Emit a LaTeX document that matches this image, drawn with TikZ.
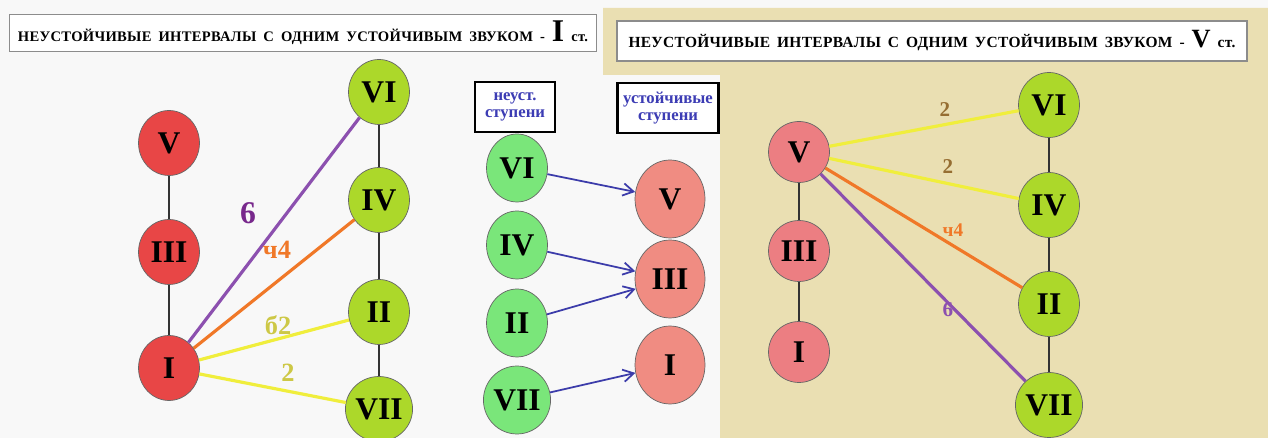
\documentclass[tikz,border=0pt]{standalone}
\usepackage{fontspec}
\setmainfont{Liberation Serif}
\newfontfamily\titlefamily[LetterSpace=2]{Liberation Serif}
\newcommand\titlefont{\titlefamily\fontsize{8.3}{8.3}\selectfont\bfseries\spaceskip=4pt\relax}
\usetikzlibrary{arrows.meta,shapes.geometric}
\definecolor{paper}{RGB}{248,248,248}
\definecolor{beige}{RGB}{234,223,178}
\definecolor{redstep}{RGB}{232,70,70}
\definecolor{limestep}{RGB}{172,216,42}
\definecolor{greenstep}{RGB}{122,230,122}
\definecolor{pinkstep}{RGB}{240,140,130}
\definecolor{rosestep}{RGB}{236,126,130}
\definecolor{violetline}{RGB}{140,80,175}
\definecolor{orangeline}{RGB}{240,120,40}
\definecolor{yellowline}{RGB}{240,238,60}
\definecolor{bluearrow}{RGB}{60,60,170}
\definecolor{bluetext}{RGB}{60,60,180}
\definecolor{violettext}{RGB}{120,40,140}
\definecolor{olivetext}{RGB}{205,200,70}
\definecolor{browntext}{RGB}{150,110,50}
\begin{document}
\begin{tikzpicture}[x=0.02cm,y=-0.02cm]
		\tikzset{degree/.style = {shape=ellipse,draw=black!60,inner sep=0pt,minimum width=1.22cm,minimum height=1.3cm,font=\fontsize{18}{18}\selectfont\bfseries}}
		\tikzset{tonic/.style = {degree,fill=redstep}}
		\tikzset{unstable/.style = {degree,fill=limestep}}
		\tikzset{leading/.style = {degree,fill=greenstep}}
		\tikzset{stable/.style = {degree,fill=pinkstep,minimum width=1.4cm,minimum height=1.56cm}}
		\tikzset{dominant/.style = {degree,fill=rosestep,minimum height=1.22cm}}
		\tikzset{title/.style = {draw=black!45,line width=1pt,fill=white,inner sep=0pt,font=\titlefont}}
		\tikzset{caption/.style = {draw=black,line width=1.5pt,fill=white,inner sep=1pt,align=center,text=bluetext,font=\fontsize{9.5}{10}\selectfont\bfseries}}
		\tikzset{chain/.style = {-,line width=1pt,black!80}}
		\tikzset{interval/.style = {-,line width=1.8pt}}
		\tikzset{move/.style = {-{Straight Barb[length=6pt,width=7pt]},line width=1pt,bluearrow}}
		\useasboundingbox (0,0) rectangle (1268,438);
		%backgrounds
		\fill[paper] (0,0) rectangle (1268,438);
		\fill[beige] (603,8) -- (1268,8) -- (1268,438) -- (720,438) -- (720,75) -- (603,75) -- cycle;
		%titles
		\node[title,minimum width=11.74cm,minimum height=0.74cm] (t1) at (303,33) {НЕУСТОЙЧИВЫЕ ИНТЕРВАЛЫ С ОДНИМ УСТОЙЧИВЫМ ЗВУКОМ - {\fontsize{18}{18}\selectfont I} ст.};
		\node[title,minimum width=12.6cm,minimum height=0.8cm,font=\titlefont\fontsize{8.8}{8.8}\selectfont] (t2) at (932,41) {НЕУСТОЙЧИВЫЕ ИНТЕРВАЛЫ С ОДНИМ УСТОЙЧИВЫМ ЗВУКОМ - {\fontsize{15}{15}\selectfont V} ст.};
		%first panel
		\node[tonic] (lV) at (169,143) {V};
		\node[tonic] (lIII) at (169,252) {III};
		\node[tonic] (lI) at (169,368) {I};
		\node[unstable] (lVI) at (379,92) {VI};
		\node[unstable] (lIV) at (379,200) {IV};
		\node[unstable] (lII) at (379,312) {II};
		\node[unstable] (lVII) at (379,409) {VII};
		\draw[chain] (lV) to (lIII);
		\draw[chain] (lIII) to (lI);
		\draw[chain] (lVI) to (lIV);
		\draw[chain] (lIV) to (lII);
		\draw[chain] (lII) to (lVII);
		\draw[interval,violetline] (lI) to (lVI);
		\draw[interval,orangeline] (lI) to (lIV);
		\draw[interval,yellowline] (lI) to (lII);
		\draw[interval,yellowline] (lI) to (lVII);
		\node[text=violettext,font=\fontsize{18}{18}\selectfont\bfseries] (l6) at (248,213) {6};
		\node[text=orangeline,font=\fontsize{15}{15}\selectfont\bfseries] (l4) at (277,250) {ч4};
		\node[text=olivetext,font=\fontsize{15}{15}\selectfont\bfseries] (l2a) at (278,325) {б2};
		\node[text=olivetext,font=\fontsize{15}{15}\selectfont\bfseries] (l2b) at (288,373) {2};
		%second panel
		\node[caption,minimum width=1.6cm,minimum height=1cm] (c1) at (515,107) {неуст.\\ступени};
		\node[caption,minimum width=2.02cm,minimum height=1cm] (c2) at (668,108) {устойчивые\\ступени};
		\node[leading,minimum height=1.36cm] (mVI) at (517,168) {VI};
		\node[leading,minimum height=1.36cm] (mIV) at (517,245) {IV};
		\node[leading,minimum height=1.36cm] (mII) at (517,323) {II};
		\node[leading,minimum height=1.36cm] (mVII) at (517,400) {VII};
		\node[stable] (mV) at (670,199) {V};
		\node[stable] (mIII) at (670,279) {III};
		\node[stable] (mI) at (670,365) {I};
		\draw[move] (mVI) to (mV);
		\draw[move] (mIV) to (mIII);
		\draw[move] (mII) to (mIII);
		\draw[move] (mVII) to (mI);
		%third panel
		\node[dominant] (rV) at (799,152) {V};
		\node[dominant] (rIII) at (799,251) {III};
		\node[dominant] (rI) at (799,352) {I};
		\node[unstable] (rVI) at (1049,105) {VI};
		\node[unstable] (rIV) at (1049,205) {IV};
		\node[unstable] (rII) at (1049,304) {II};
		\node[unstable] (rVII) at (1049,405) {VII};
		\draw[chain] (rV) to (rIII);
		\draw[chain] (rIII) to (rI);
		\draw[chain] (rVI) to (rIV);
		\draw[chain] (rIV) to (rII);
		\draw[chain] (rII) to (rVII);
		\draw[interval,yellowline] (rV) to (rVI);
		\draw[interval,yellowline] (rV) to (rIV);
		\draw[interval,orangeline] (rV) to (rII);
		\draw[interval,violetline] (rV) to (rVII);
		\node[text=browntext,font=\fontsize{12}{12}\selectfont\bfseries] (r2a) at (945,110) {2};
		\node[text=browntext,font=\fontsize{12}{12}\selectfont\bfseries] (r2b) at (948,167) {2};
		\node[text=orangeline,font=\fontsize{11}{11}\selectfont\bfseries] (r4) at (953,230) {ч4};
		\node[text=violetline,font=\fontsize{12}{12}\selectfont\bfseries] (r6) at (948,310) {6};
\end{tikzpicture}
\end{document}
